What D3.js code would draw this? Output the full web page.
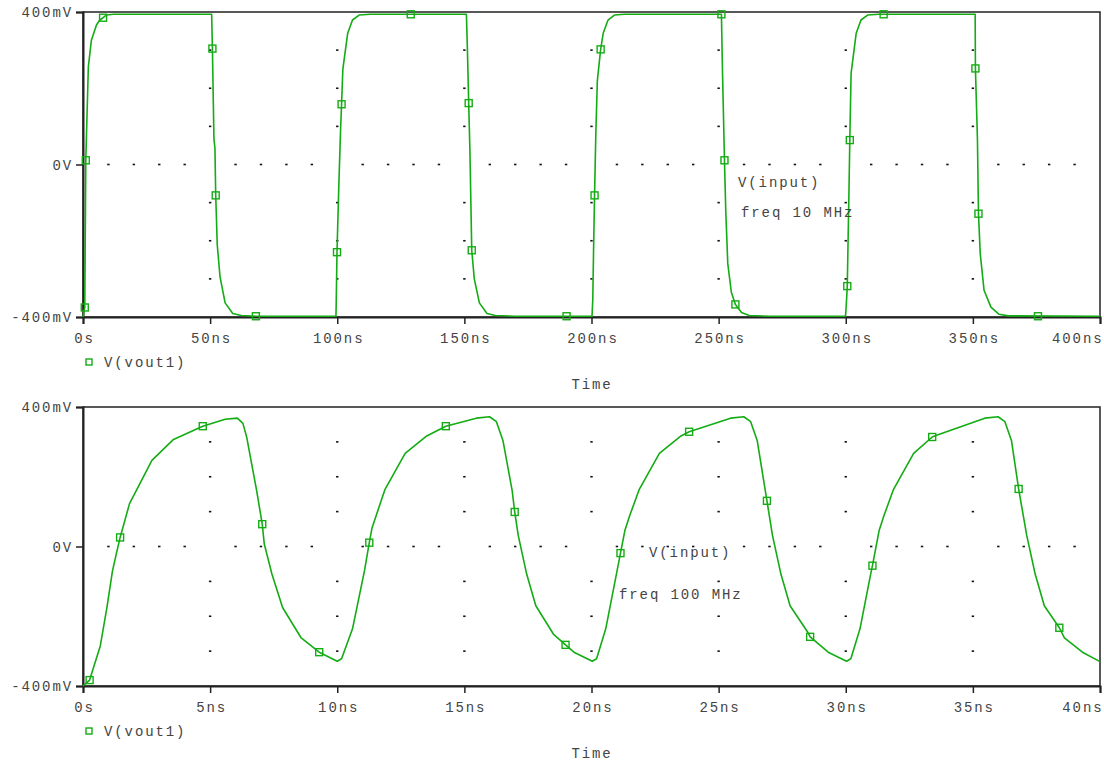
<!DOCTYPE html>
<html>
<head>
<meta charset="utf-8">
<script src="https://cdn.jsdelivr.net/npm/d3@7"></script>
<style>
  html, body { margin: 0; padding: 0; background: #fff; }
  svg text { font-family: "Courier New", "Liberation Mono", monospace; font-size: 14px; fill: #444; letter-spacing: 1.9px; }
</style>
</head>
<body>
<svg id="chart" width="1104" height="763"></svg>
<script>
// ---------- DATA ----------
// Top panel: 10 MHz, time in ns, voltage in mV
const topTimes = [0,0.7,1.1,2.1,3.3,5.3,6.6,7.9,9.2,12,
  50.6,50.9,51.5,51.9,52.2,52.8,53.9,55.9,58.9,62.2,68,
  99.5,99.6,99.9,100.6,101.3,101.7,102.2,104.1,106,108.6,113,
  150.8,151.2,151.7,152.2,152.9,153.9,155.9,158.9,162.2,170,
  200.2,200.5,200.8,201.2,201.7,202.3,203.6,204.6,206.5,209,213,
  251.1,251.5,252.3,252.8,253.6,255,256.6,259,262,270,
  299.9,300.2,300.6,301.2,301.6,302.1,304.1,306,308.6,313,
  350.9,351,351.8,352.2,352.9,354.4,357.1,360.3,364,400];
const topValues = [-400,-375,11,256,326,366,379,385,392,394,
  394,304,68,42,-81,-210,-295,-363,-391,-396,-398,
  -398,-360,-230,-60,90,158,250,344,379,392,394,
  394,300,161,30,-225,-300,-363,-391,-396,-398,
  -398,-355,-230,-81,80,220,302,344,379,392,394,
  394,250,11,-120,-260,-335,-367,-388,-396,-398,
  -398,-370,-319,-94,64,239,344,379,392,394,
  394,252,64,-129,-234,-330,-374,-393,-397,-398];
const topMarkerTimes  = [0.7,1.1,7.9,50.9,52.2,68,99.9,101.7,128.9,151.7,152.9,190.2,201.2,203.6,251.1,252.3,256.6,300.6,301.6,314.9,351,352.2,375.6];
const topMarkerValues = [-375,11,385,304,-81,-398,-230,158,394,161,-225,-398,-81,302,394,11,-367,-319,64,394,252,-129,-398];

// Bottom panel: 100 MHz, time in ns, voltage in mV
const botTimes = [0,0.26,0.68,0.94,1.16,1.31,1.46,1.83,2.71,3.56,4.71,5.59,6.07,6.29,6.44,6.83,7.05,7.13,7.43,7.85,8.57,9.29,
  10.0,10.17,10.6,11.07,11.26,11.37,11.88,12.67,13.52,14.27,15.47,15.99,16.26,16.52,16.88,16.98,17.12,17.45,17.81,18.5,18.98,19.31,
  20.03,20.2,20.56,20.98,21.14,21.31,21.5,21.88,22.67,23.52,23.84,25.47,25.99,26.26,26.52,26.9,27.12,27.45,27.81,28.5,28.6,29.31,
  30.03,30.2,30.56,30.98,31.05,31.31,31.5,31.88,32.67,33.4,33.6,35.47,35.99,36.26,36.52,36.8,37.12,37.45,37.81,38.4,38.6,39.31,40];
const botValues = [-400,-383,-285,-175,-70,-21,26,123,247,307,345,365,368,353,313,160,64,7,-79,-175,-261,-303,
  -329,-322,-236,-70,11,54,164,267,317,345,368,372,358,303,160,99,31,-79,-170,-251,-282,-303,
  -329,-322,-236,-79,-19,45,88,164,267,317,329,368,372,358,303,131,31,-79,-170,-245,-259,-303,
  -329,-322,-236,-79,-55,45,88,164,267,314,320,368,372,358,303,165,31,-79,-170,-233,-262,-303,-330];
const botMarkerTimes  = [0.26,1.46,4.71,7.05,9.29,11.26,14.27,16.98,18.98,21.14,23.84,26.9,28.6,31.05,33.4,36.8,38.4];
const botMarkerValues = [-383,26,345,64,-303,11,345,99,-282,-19,329,131,-259,-55,314,165,-233];

// Axis ticks & labels
const yTickValues = [-400, 0, 400];
const yTickLabels = ["-400mV", "0V", "400mV"];
const topXTicks = [0,50,100,150,200,250,300,350,400];
const topXLabels = ["0s","50ns","100ns","150ns","200ns","250ns","300ns","350ns","400ns"];
const botXTicks = [0,5,10,15,20,25,30,35,40];
const botXLabels = ["0s","5ns","10ns","15ns","20ns","25ns","30ns","35ns","40ns"];
const gridMv = [-300,-200,-100,100,200,300];
const topGridMinor = d3.range(10, 400, 10).filter(t => t % 50 !== 0);
const botGridMinor = d3.range(1, 40, 1).filter(t => t % 5 !== 0);
const legendLabel = "V(vout1)";
const xTitle = "Time";
const topNotes = [{text:"V(input)", x:738, y:182}, {text:"freq 10 MHz", x:741, y:212}];
const botNotes = [{text:"V(input)", x:649, y:552}, {text:"freq 100 MHz", x:619, y:594}];

// ---------- DRAW ----------
const svg = d3.select("#chart");
const green = "#14ac14";

function panel(cfg) {
  const x = d3.scaleLinear().domain(cfg.xDomain).range([83, 1100]);
  const y = d3.scaleLinear().domain([-400, 400]).range([cfg.bottom, cfg.top]);
  const g = svg.append("g");

  // grid dots
  const dots = [];
  cfg.majors.slice(1, -1).forEach(t => gridMv.forEach(v => dots.push([t, v])));
  cfg.minors.forEach(t => dots.push([t, 0]));
  g.selectAll("rect.dot").data(dots).enter().append("rect")
    .attr("x", d => x(d[0]) - 1.2).attr("y", d => y(d[1]) - 0.8)
    .attr("width", 2.4).attr("height", 1.6).attr("fill", "#111");

  // frame
  g.append("rect").attr("x", 83).attr("y", cfg.top)
    .attr("width", 1017).attr("height", cfg.bottom - cfg.top)
    .attr("fill", "none").attr("stroke", "#222").attr("stroke-width", 1.5);

  // axes
  const xa = g.append("g").attr("transform", `translate(0,${cfg.bottom})`)
    .call(d3.axisBottom(x).tickValues(cfg.majors).tickSize(7).tickPadding(9)
      .tickFormat((d, i) => cfg.labels[i]));
  const ya = g.append("g").attr("transform", "translate(83,0)")
    .call(d3.axisLeft(y).tickValues(yTickValues).tickSize(7).tickPadding(3)
      .tickFormat((d, i) => yTickLabels[i]));
  [xa, ya].forEach(a => {
    a.select(".domain").attr("stroke", "#222").attr("stroke-width", 2);
    a.selectAll(".tick line").attr("stroke", "#222").attr("stroke-width", 1.5);
    a.selectAll("text").attr("font-family", null).attr("font-size", null).attr("fill", null);
  });
  xa.selectAll("text").attr("dx", "0.95px");
  // last label sits flush with the right edge, as in the reference
  xa.selectAll(".tick").filter((d, i) => i === cfg.majors.length - 1)
    .select("text").attr("text-anchor", "end").attr("dx", "3px");
  ya.selectAll("text").attr("dy", "0.35em");

  // trace
  const pts = cfg.times.map((t, i) => [t, cfg.values[i]]);
  g.append("path").datum(pts)
    .attr("d", d3.line().x(d => x(d[0])).y(d => y(d[1])))
    .attr("fill", "none").attr("stroke", green).attr("stroke-width", 1.6)
    .attr("stroke-linejoin", "round");

  // markers
  const mk = cfg.mTimes.map((t, i) => [t, cfg.mValues[i]]);
  g.selectAll("rect.mk").data(mk).enter().append("rect")
    .attr("x", d => x(d[0]) - 3.5).attr("y", d => y(d[1]) - 3.5)
    .attr("width", 7).attr("height", 7)
    .attr("fill", "none").attr("stroke", green).attr("stroke-width", 1.4);

  // notes
  cfg.notes.forEach(n => g.append("text").attr("x", n.x).attr("y", n.y).attr("dy", "0.35em").text(n.text));

  // legend
  g.append("rect").attr("x", 86).attr("y", cfg.legendY - 3)
    .attr("width", 6).attr("height", 6).attr("fill", "none")
    .attr("stroke", green).attr("stroke-width", 1.4);
  g.append("text").attr("x", 104).attr("y", cfg.legendY).attr("dy", "0.35em").text(legendLabel);
  g.append("text").attr("x", 592).attr("y", cfg.titleY).attr("dy", "0.35em")
    .attr("text-anchor", "middle").text(xTitle);
}

panel({xDomain:[0,400], top:12, bottom:317, majors:topXTicks, labels:topXLabels, minors:topGridMinor,
  times:topTimes, values:topValues, mTimes:topMarkerTimes, mValues:topMarkerValues,
  notes:topNotes, legendY:362, titleY:384});
panel({xDomain:[0,40], top:407, bottom:686, majors:botXTicks, labels:botXLabels, minors:botGridMinor,
  times:botTimes, values:botValues, mTimes:botMarkerTimes, mValues:botMarkerValues,
  notes:botNotes, legendY:731, titleY:753});
</script>
</body>
</html>
